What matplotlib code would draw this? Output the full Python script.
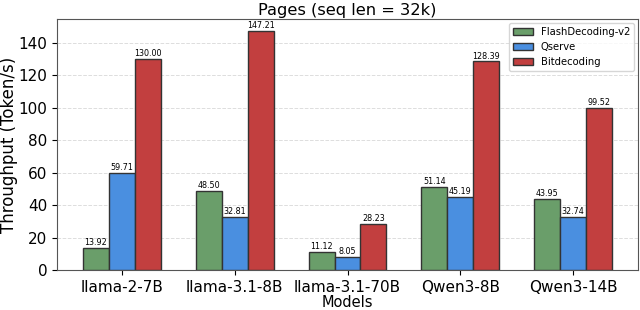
import matplotlib
matplotlib.use("Agg")
import matplotlib.pyplot as plt
import numpy as np

models = ["llama-2-7B", "llama-3.1-8B", "llama-3.1-70B", "Qwen3-8B", "Qwen3-14B"]
series_names = ["FlashDecoding-v2", "Qserve", "Bitdecoding"]
flash = [13.92, 48.50, 11.12, 51.14, 43.95]
qserve = [59.71, 32.81, 8.05, 45.19, 32.74]
bitdec = [130.00, 147.21, 28.23, 128.39, 99.52]
colors = ["#6a9e6a", "#4a8fe0", "#c23f3f"]

fig, ax = plt.subplots(figsize=(6.4, 3.1), dpi=100)
x = np.arange(len(models))
w = 0.23
for i, (vals, name, c) in enumerate(zip([flash, qserve, bitdec], series_names, colors)):
    bars = ax.bar(x + (i - 1) * w, vals, w, label=name, color=c, edgecolor="#333333", linewidth=1.0, zorder=3)
    for b, v in zip(bars, vals):
        ax.text(b.get_x() + b.get_width() / 2, v + 0.6, f"{v:.2f}", ha="center", va="bottom", fontsize=5.8)

ax.set_xticks(x)
ax.set_xticklabels(models, fontsize=11)
ax.tick_params(axis="y", labelsize=11)
ax.set_yticks(np.arange(0, 141, 20))
ax.set_ylim(0, max(bitdec) * 1.05)
ax.set_xlim(-0.575, 4.575)
ax.set_xlabel("Models", fontsize=10.5, labelpad=0)
ax.set_ylabel("Throughput (Token/s)", fontsize=12, labelpad=0.5)
ax.set_title("Pages (seq len = 32k)", fontsize=11.7, pad=3)
ax.yaxis.grid(True, linestyle="--", color="#dddddd", linewidth=0.7, zorder=0)
for s in ax.spines.values():
    s.set_color("#555555")
ax.legend(fontsize=7.2, loc="upper right", borderaxespad=0.4)
fig.subplots_adjust(left=0.089, right=0.997, top=0.939, bottom=0.128)
fig.savefig("out.png", dpi=100)
